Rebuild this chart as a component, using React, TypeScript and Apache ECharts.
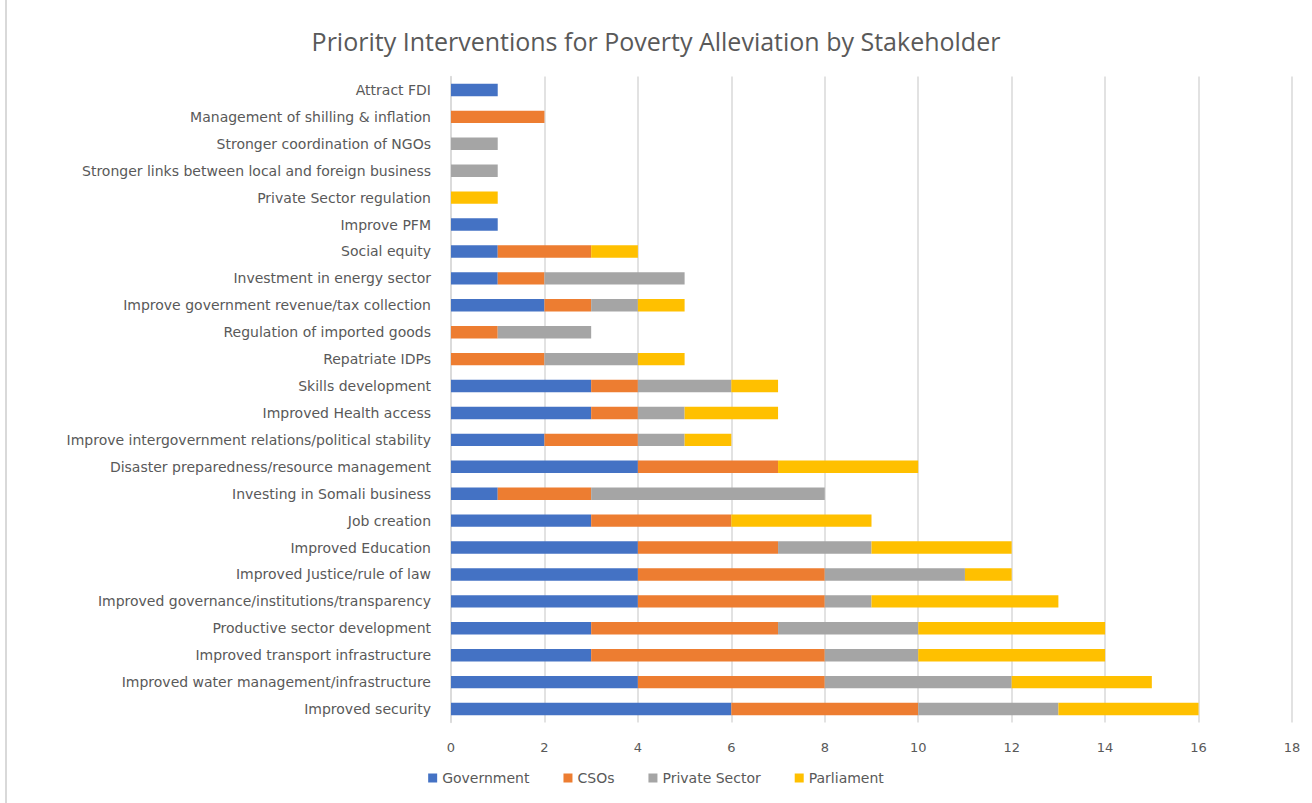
import React, { useEffect, useRef } from "react";
import * as echarts from "echarts";

const categories = [
  "Attract FDI",
  "Management of shilling & inflation",
  "Stronger coordination of NGOs",
  "Stronger links between local and foreign business",
  "Private Sector regulation",
  "Improve PFM",
  "Social equity",
  "Investment in energy sector",
  "Improve government revenue/tax collection",
  "Regulation of imported goods",
  "Repatriate IDPs",
  "Skills development",
  "Improved Health access",
  "Improve intergovernment relations/political stability",
  "Disaster preparedness/resource management",
  "Investing in Somali business",
  "Job creation",
  "Improved Education",
  "Improved Justice/rule of law",
  "Improved governance/institutions/transparency",
  "Productive sector development",
  "Improved transport infrastructure",
  "Improved water management/infrastructure",
  "Improved security",
];

const government = [1, 0, 0, 0, 0, 1, 1, 1, 2, 0, 0, 3, 3, 2, 4, 1, 3, 4, 4, 4, 3, 3, 4, 6];
const csos = [0, 2, 0, 0, 0, 0, 2, 1, 1, 1, 2, 1, 1, 2, 3, 2, 3, 3, 4, 4, 4, 5, 4, 4];
const privateSector = [0, 0, 1, 1, 0, 0, 0, 3, 1, 2, 2, 2, 1, 1, 0, 5, 0, 2, 3, 1, 3, 2, 4, 3];
const parliament = [0, 0, 0, 0, 1, 0, 1, 0, 1, 0, 1, 1, 2, 1, 3, 0, 3, 3, 1, 4, 4, 4, 3, 3];

const xTicks = [0, 2, 4, 6, 8, 10, 12, 14, 16, 18];

const seriesDefs = [
  { name: "Government", data: government, color: "#4472C4" },
  { name: "CSOs", data: csos, color: "#ED7D31" },
  { name: "Private Sector", data: privateSector, color: "#A5A5A5" },
  { name: "Parliament", data: parliament, color: "#FFC000" },
];

export default function App() {
  const ref = useRef<HTMLDivElement>(null);
  useEffect(() => {
    if (!ref.current) return;
    const chart = echarts.init(ref.current, null, { renderer: "svg" });
    const font = "DejaVu Sans";
    chart.setOption({
      animation: false,
      backgroundColor: "#ffffff",
      textStyle: { fontFamily: font },
      title: {
        text: "Priority Interventions for Poverty Alleviation by Stakeholder",
        left: "center",
        top: 23,
        textStyle: {
          fontFamily: "Open Sans",
          fontSize: 25,
          fontWeight: "normal",
          color: "#595959",
        },
      },
      legend: {
        bottom: 13,
        left: "center",
        itemWidth: 9,
        itemHeight: 9,
        itemGap: 34,
        icon: "rect",
        textStyle: { fontFamily: font, fontSize: 14, color: "#595959" },
        data: seriesDefs.map((s) => s.name),
      },
      graphic: [
        {
          type: "line",
          shape: { x1: 6, y1: 0, x2: 6, y2: 803 },
          style: { stroke: "#d9d9d9", lineWidth: 2 },
        },
      ],
      grid: { left: 451, right: 20, top: 76.5, bottom: 80.5, containLabel: false },
      xAxis: {
        type: "value",
        min: 0,
        max: 18,
        interval: 2,
        axisLine: { show: false },
        axisTick: { show: false },
        splitLine: { show: true, lineStyle: { color: "#d9d9d9", width: 1.5 } },
        axisLabel: {
          color: "#595959",
          fontSize: 13,
          fontFamily: font,
          margin: 18,
          formatter: (v: number) => (xTicks.includes(v) ? String(v) : ""),
        },
      },
      yAxis: {
        type: "category",
        inverse: true,
        data: categories,
        axisLine: { show: true, lineStyle: { color: "#d9d9d9", width: 1.5 } },
        axisTick: { show: false },
        axisLabel: { color: "#595959", fontSize: 14, fontFamily: font, margin: 20 },
      },
      series: seriesDefs.map((s) => ({
        name: s.name,
        type: "bar",
        stack: "total",
        barWidth: "46%",
        itemStyle: { color: s.color },
        data: s.data,
      })),
    });
    return () => chart.dispose();
  }, []);
  return (
    <div
      ref={ref}
      style={{ position: "fixed", left: 0, top: 0, width: 1312, height: 803 }}
    />
  );
}
